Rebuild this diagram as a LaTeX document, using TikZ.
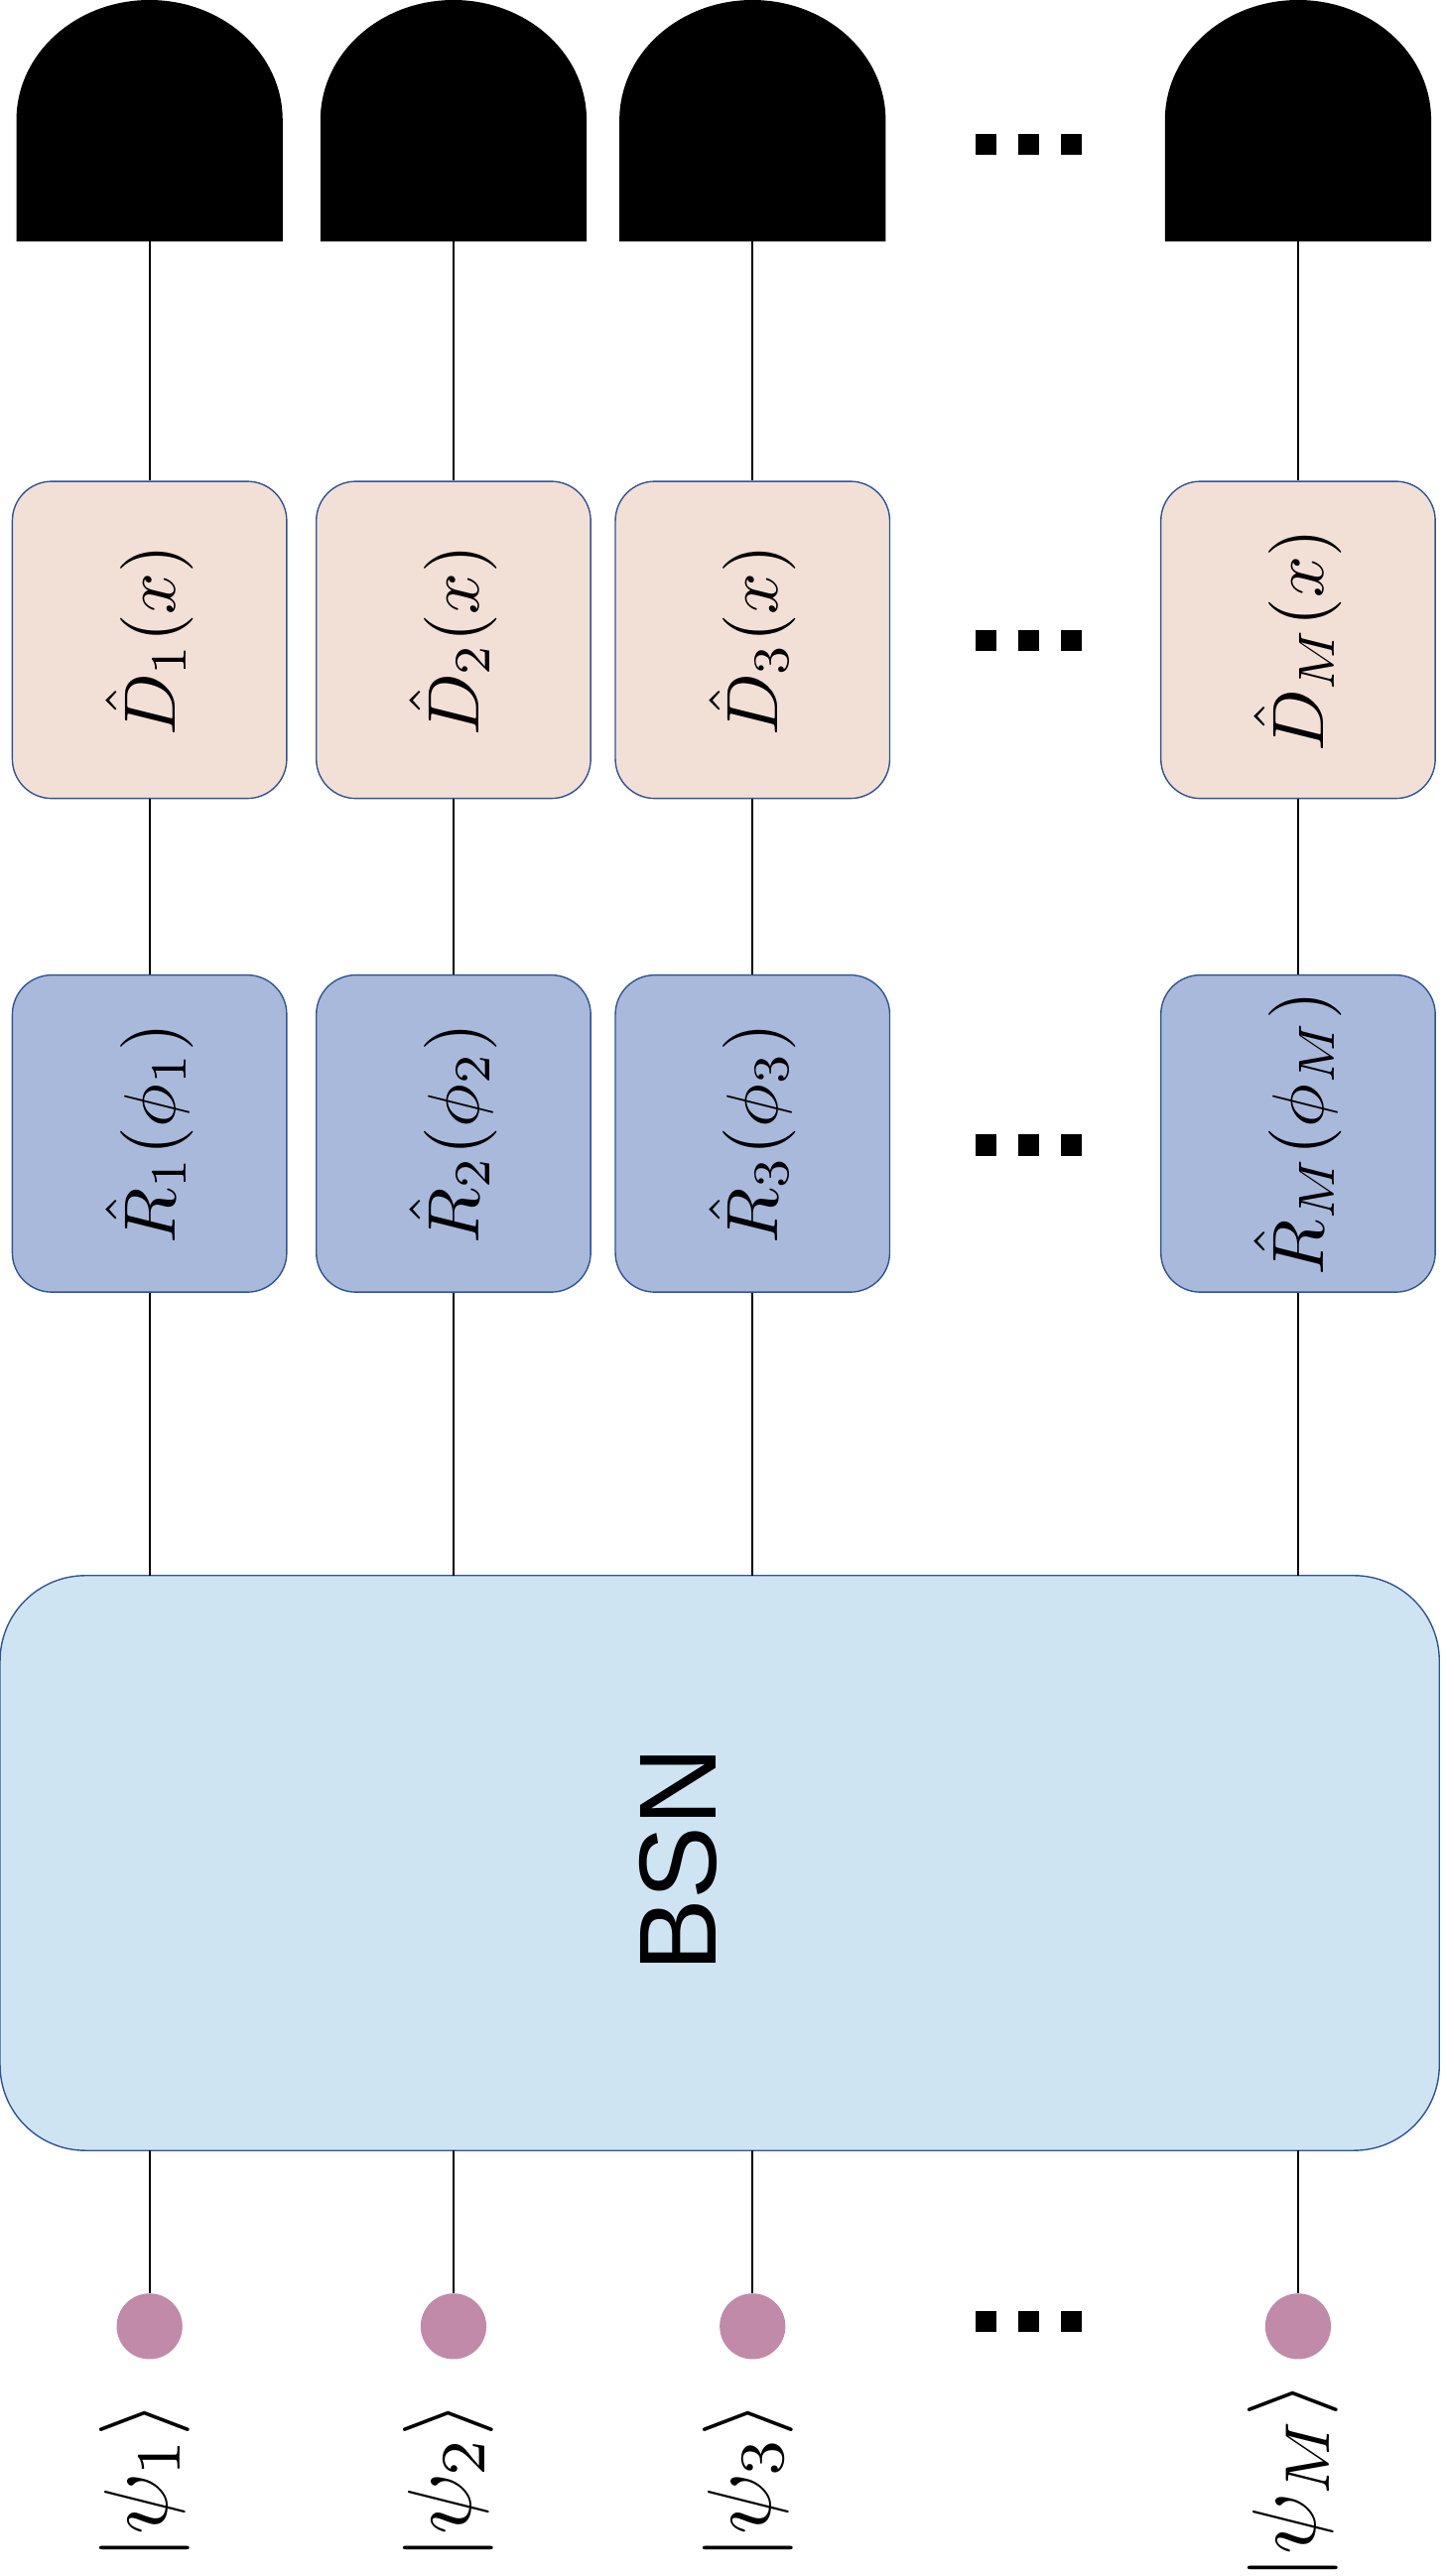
\documentclass[tikz,border=0pt]{standalone}
\usepackage{fontspec}
\setsansfont{Liberation Sans}
\definecolor{bord}{RGB}{47,84,150}
\begin{document}
\begin{tikzpicture}[x=0.05cm,y=-0.05cm,
  box/.style={draw=bord,line width=1.2pt,rounded corners=1.2cm,minimum width=8.35cm,minimum height=9.65cm,inner sep=0pt},
  dbox/.style={box,fill={rgb,255:red,242;green,224;blue,214}},
  rbox/.style={box,fill={rgb,255:red,169;green,185;blue,219}},
  lbl/.style={rotate=90,scale=6.3},
  ln/.style={line width=1.5pt},
  dot/.style={circle,fill={rgb,255:red,192;green,138;blue,168},minimum size=2cm,inner sep=0pt}]
\useasboundingbox (0,0) rectangle (880,1568);
\node[draw=bord,line width=1.2pt,fill={rgb,255:red,207;green,228;blue,242},rounded corners=2.6cm,minimum width=43.8cm,minimum height=17.5cm] (bsn) at (438,1134) {};
\node[rotate=90,scale=9.5,font=\sffamily] at (413,1132) {BSN};
\foreach \i/\x/\s in {1/91/1,2/276/2,3/458/3,M/790/M}{
  \fill (\x-81,147) -- (\x-81,73) arc[start angle=180,end angle=360,x radius=81,y radius=73] -- (\x+81,147) -- cycle;
  \coordinate (det\i) at (\x,147);
  \node[dbox] (d\i) at (\x,389.5) {};
  \node[lbl] at (\x,389.5) {$\hat D_{\s}(x)$};
  \node[rbox] (r\i) at (\x,690) {};
  \node[lbl] at (\x,690) {$\hat R_{\s}(\phi_{\s})$};
  \node[dot] (p\i) at (\x,1416) {};
  \node[rotate=90,scale=7.8] at (\x-3,1510) {$|\psi_{\s}\rangle$};
  \draw[ln] (det\i) -- (d\i.north);
  \draw[ln] (d\i.south) -- (r\i.north);
  \draw[ln] (r\i.south) -- (\x,959);
  \draw[ln] (\x,1309) -- (p\i.north);
}
\foreach \y in {88,390,697,1413}{
  \foreach \dx in {600,626,652}{\fill (\dx-6.5,\y-6.5) rectangle (\dx+6.5,\y+6.5);}
}
\end{tikzpicture}
\end{document}
